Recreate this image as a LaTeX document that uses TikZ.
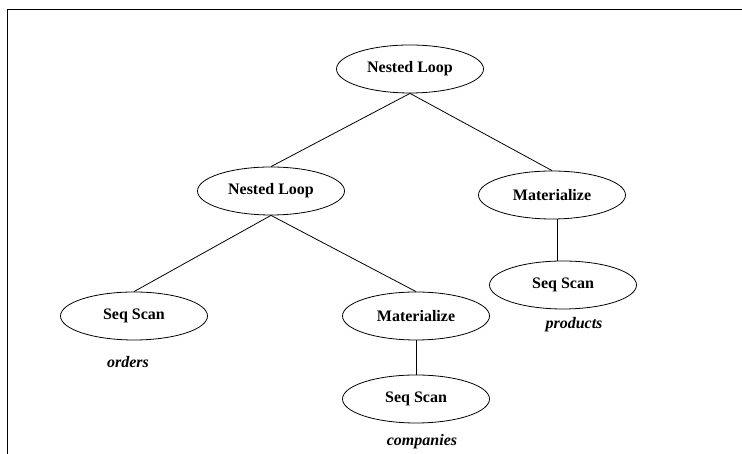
\documentclass[tikz,border=0pt]{standalone}
\usepackage{fontspec}
\setmainfont{Liberation Serif}
\usetikzlibrary{shapes.geometric}

\begin{document}
\begin{tikzpicture}[x=1pt, y=1pt,
    plannode/.style={draw, ellipse, line width=0.8pt, minimum width=147pt, minimum height=48pt,
        inner sep=0pt, font=\fontsize{16}{18}\selectfont\bfseries},
    relname/.style={font=\fontsize{16}{18}\selectfont\bfseries\itshape},
    planedge/.style={line width=0.8pt}]
    \useasboundingbox (0,0) rectangle (742,454);

    % Frame (top and left edges only)
    \draw[line width=1pt] (7.5,0) -- (7.5,444) -- (742,444);

    % Plan nodes
    \node[plannode] (root) at (410,385) {Nested Loop};
    \node[plannode] (innerloop) at (271,263) {Nested Loop};
    \node[plannode] (matprod) at (552,259) {Materialize};
    \node[plannode] (scanorders) at (134,138) {Seq Scan};
    \node[plannode] (matcomp) at (416,138) {Materialize};
    \node[plannode] (scancomp) at (416,55) {Seq Scan};
    \node[plannode] (scanprod) at (563,169) {Seq Scan};

    % Relation names
    \node[relname] (orders) at (128,92) {orders};
    \node[relname] (companies) at (422,12) {companies};
    \node[relname] (products) at (574,129) {products};

    % Edges
    \draw[planedge] (root.south) -- (innerloop.north);
    \draw[planedge] (root.south) -- (matprod.north);
    \draw[planedge] (innerloop.south) -- (scanorders.north);
    \draw[planedge] (innerloop.south) -- (matcomp.north);

    % Vertical edges, halfway between the two centres
    \path (matcomp.south) -- (scancomp.north) coordinate[pos=0.5] (compjoin);
    \path (matprod.south) -- (scanprod.north) coordinate[pos=0.5] (prodjoin);
    \draw[planedge] (matcomp.south -| compjoin) -- (scancomp.north -| compjoin);
    \draw[planedge] (matprod.south -| prodjoin) -- (scanprod.north -| prodjoin);

\end{tikzpicture}
\end{document}
